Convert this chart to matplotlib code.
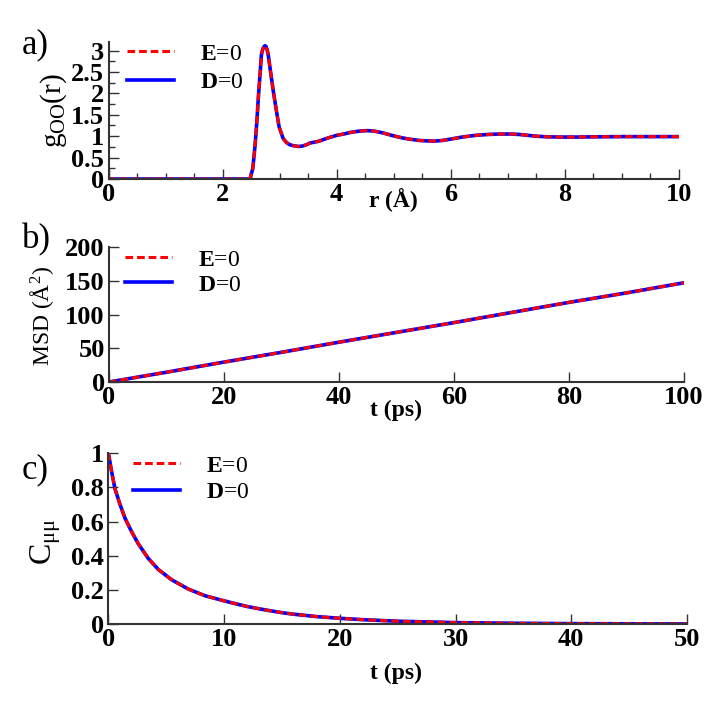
import numpy as np
import matplotlib
matplotlib.use('Agg')
import matplotlib.pyplot as plt
from matplotlib.ticker import MultipleLocator, FixedLocator

plt.rcParams['font.family'] = ['Liberation Serif', 'DejaVu Serif']
plt.rcParams['mathtext.fontset'] = 'custom'
plt.rcParams['mathtext.rm'] = 'Liberation Serif'
plt.rcParams['mathtext.it'] = 'Liberation Serif:italic'
plt.rcParams['mathtext.bf'] = 'Liberation Serif:bold'

# panel a: O-O radial distribution
r = [0.0, 2.40, 2.48, 2.53, 2.57, 2.60, 2.63, 2.66, 2.68, 2.705, 2.73, 2.745, 2.76,
     2.78, 2.80, 2.84, 2.89, 2.94, 2.99, 3.06, 3.12, 3.18, 3.25, 3.33, 3.40, 3.47,
     3.53, 3.68, 3.85, 4.0, 4.12, 4.25, 4.4, 4.53, 4.65, 4.8, 4.99, 5.15, 5.28,
     5.45, 5.58, 5.72, 5.85, 5.99, 6.2, 6.44, 6.65, 6.85, 7.05, 7.2, 7.35, 7.49,
     7.7, 7.9, 8.2, 8.5, 9.0, 9.5, 10.0]
g_oo = [0.0, 0.0, 0.0, 0.25, 0.80, 1.34, 1.97, 2.51, 2.90, 3.04, 3.10, 3.11, 3.10,
        3.02, 2.90, 2.51, 2.04, 1.62, 1.22, 0.95, 0.85, 0.80, 0.775, 0.76, 0.77, 0.80,
        0.84, 0.88, 0.96, 1.02, 1.05, 1.09, 1.12, 1.13, 1.12, 1.08, 1.01, 0.96, 0.93,
        0.90, 0.89, 0.885, 0.90, 0.93, 0.98, 1.02, 1.04, 1.05, 1.05, 1.04, 1.02, 1.0,
        0.985, 0.98, 0.98, 0.985, 0.99, 0.99, 0.99]

# panel b: mean square displacement
t_msd = [0, 10, 20, 30, 40, 50, 60, 70, 80, 90, 100]
msd = [0, 14.5, 29.5, 44, 59, 73.5, 88, 103, 118, 132, 147]

# panel c: dipole autocorrelation
t_c = [0, 0.06, 0.29, 0.58, 1.01, 1.44, 2.02, 2.59, 3.45, 4.32, 5.47, 6.9, 8.35,
       10, 11, 12, 13, 14, 15, 16, 18, 20, 22, 25, 30, 35, 40, 45, 50]
c_mumu = [1.0, 0.98, 0.89, 0.79, 0.70, 0.62, 0.54, 0.47, 0.385, 0.32, 0.26, 0.206,
          0.167, 0.137, 0.12, 0.104, 0.091, 0.079, 0.068, 0.059, 0.045, 0.035, 0.027,
          0.018, 0.010, 0.006, 0.004, 0.003, 0.002]

labels = [r'$\mathbf{E}$=0', r'$\mathbf{D}$=0']

W = 706.0


def fbox(x0, x1, ytop, ybot):
    return [x0 / W, 1 - ybot / W, (x1 - x0) / W, (ybot - ytop) / W]


fig = plt.figure(figsize=(7.06, 7.06), dpi=100)
axa = fig.add_axes(fbox(108.5, 679, 42, 179))
axb = fig.add_axes(fbox(109, 684, 247, 382))
axc = fig.add_axes(fbox(108.3, 687, 453, 624.3))


def style(ax):
    for s in ['top', 'right']:
        ax.spines[s].set_visible(False)
    for s in ['left', 'bottom']:
        ax.spines[s].set_color('#333333')
        ax.spines[s].set_linewidth(1.5)
    ax.tick_params(which='major', direction='in', length=7, width=1, color='#333333',
                   labelsize=19, pad=3)
    ax.tick_params(which='minor', direction='in', length=4, width=1, color='#333333')
    for lab in ax.get_xticklabels() + ax.get_yticklabels():
        lab.set_fontweight('bold')


def curves(ax, x, y):
    ax.plot(x, y, color='#0000ff', lw=2.6, label=labels[1])
    ax.plot(x, y, color='#ff0000', lw=2.2, dashes=(2.5, 1.3), label=labels[0])


def legend(ax, x, y, spacing):
    h, l = ax.get_legend_handles_labels()
    ax.legend(h[::-1], l[::-1], loc='upper left', bbox_to_anchor=(x / W, 1 - y / W),
              bbox_transform=fig.transFigure, frameon=False, fontsize=17,
              handlelength=2.0, handletextpad=1.1, labelspacing=spacing,
              borderpad=0, borderaxespad=0)


# a
curves(axa, r, g_oo)
axa.set_xlim(0, 10)
axa.set_ylim(0, 3.2)
axa.set_xticks([0, 2, 4, 6, 8, 10])
axa.set_xticklabels(['0', '2', '4', '6', '8', '10'])
axa.set_yticks([0, 0.5, 1, 1.5, 2, 2.5, 3])
axa.set_yticklabels(['0', '0.5', '1', '1.5', '2', '2.5', '3'])
axa.xaxis.set_minor_locator(MultipleLocator(0.5))
axa.yaxis.set_minor_locator(MultipleLocator(0.25))
style(axa)
axa.set_xlabel('r (Å)', fontsize=17, fontweight='bold')
axa.xaxis.set_label_coords(0.499, -0.07)
axa.set_ylabel(r'g$_{\rm OO}$(r)', fontsize=21)
axa.yaxis.set_label_coords(-0.07, 0.5)
legend(axa, 127, 43, 0.3)

# b
curves(axb, t_msd, msd)
axb.set_xlim(0, 100)
axb.set_ylim(0, 200)
axb.set_xticks([0, 20, 40, 60, 80, 100])
axb.set_yticks([0, 50, 100, 150, 200])
style(axb)
axb.set_xlabel('t (ps)', fontsize=17, fontweight='bold')
axb.xaxis.set_label_coords(0.50, -0.13)
axb.set_ylabel('MSD (Å$^2$)', fontsize=17)
axb.yaxis.set_label_coords(-0.092, 0.49)
legend(axb, 125, 249, 0.15)

# c
curves(axc, t_c, c_mumu)
axc.set_xlim(0, 50)
axc.set_ylim(0, 1)
axc.set_xticks([0, 10, 20, 30, 40, 50])
axc.set_yticks([0, 0.2, 0.4, 0.6, 0.8, 1])
axc.set_yticklabels(['0', '0.2', '0.4', '0.6', '0.8', '1'])
style(axc)
axc.set_xlabel('t (ps)', fontsize=17, fontweight='bold')
axc.xaxis.set_label_coords(0.498, -0.225)
axc.set_ylabel(r'C$_{\rm μμ}$', fontsize=23)
axc.yaxis.set_label_coords(-0.078, 0.48)
legend(axc, 133, 455, 0.2)

fig.text(22 / W, 1 - 45 / W, 'a)', fontsize=25, va='center')
fig.text(22 / W, 1 - 240 / W, 'b)', fontsize=25, va='center')
fig.text(22 / W, 1 - 470 / W, 'c)', fontsize=25, va='center')

fig.savefig('out.png', dpi=100)
